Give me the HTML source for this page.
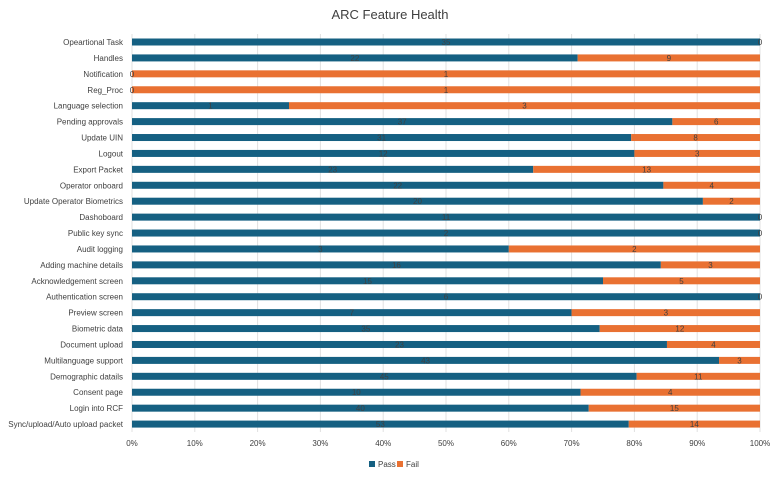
<!DOCTYPE html>
<html><head><meta charset="utf-8"><style>
body{margin:0;background:#fff;font-family:"Liberation Sans",sans-serif}
svg text{font-family:"Liberation Sans",sans-serif}
</style></head><body>
<svg id="chart" width="780" height="477">
<text x="390" y="19" text-anchor="middle" font-size="13" fill="#404040">ARC Feature Health</text>
<g id="grid"></g><g id="bars"></g><g id="ylabels"></g><g id="xlabels"></g>
<g>
<rect x="369" y="461" width="6" height="6" fill="#156082"/>
<text x="378" y="467" font-size="8" fill="#404040">Pass</text>
<rect x="397" y="461" width="6" height="6" fill="#E97132"/>
<text x="406" y="467" font-size="8" fill="#404040">Fail</text>
</g>
</svg>
<script>
const categories=["Opeartional Task","Handles","Notification","Reg_Proc","Language selection","Pending approvals","Update UIN","Logout","Export Packet","Operator onboard","Update Operator Biometrics","Dashoboard","Public key sync","Audit logging","Adding machine details","Acknowledgement screen","Authentication screen","Preview screen","Biometric data","Document upload","Multilanguage support","Demographic datails","Consent page","Login into RCF","Sync/upload/Auto upload packet"];
const passValues=[35,22,0,0,1,37,31,12,23,22,20,11,2,3,16,15,6,7,35,23,43,45,10,40,53];
const failValues=[0,9,1,1,3,6,8,3,13,4,2,0,0,2,3,5,0,3,12,4,3,11,4,15,14];
const xTicks=[0,10,20,30,40,50,60,70,80,90,100];
const NS="http://www.w3.org/2000/svg";
const x0=132,x1=760,yTop=42,yStep=15.92,bh=7;
const xs=p=>x0+(x1-x0)*p/100;
const ys=i=>yTop+i*yStep;
function mk(tag,attrs,parent,txt){const e=document.createElementNS(NS,tag);for(const k in attrs)e.setAttribute(k,attrs[k]);if(txt!==undefined)e.textContent=txt;parent.appendChild(e);return e;}
const grid=document.getElementById('grid'),bars=document.getElementById('bars'),yl=document.getElementById('ylabels'),xl=document.getElementById('xlabels');
xTicks.forEach(t=>{
  const l=mk('line',{x1:xs(t),x2:xs(t),y1:34,y2:432,stroke:'#e0e0e0','stroke-width':1},grid);
  
  
  const tx=mk('text',{x:xs(t),y:446,'text-anchor':'middle','font-size':8,fill:'#404040'},xl,t+'%');
  
  
});
categories.forEach((c,i)=>{
  const tot=passValues[i]+failValues[i];
  const pp=tot?passValues[i]/tot*100:0;
  const y=ys(i);
  const lab=mk('text',{x:123,y:y+3,'text-anchor':'end','font-size':8,fill:'#404040'},yl,c);
  
  
  const r1=mk('rect',{x:xs(0),y:y-bh/2,width:xs(pp)-xs(0),height:bh,fill:'#156082'},bars);
  
  
  const r2=mk('rect',{x:xs(pp),y:y-bh/2,width:xs(100)-xs(pp),height:bh,fill:'#E97132'},bars);
  
  
  const t1=mk('text',{x:(xs(0)+xs(pp))/2,y:y+3,'text-anchor':'middle','font-size':8,fill:'#404040'},bars,passValues[i]);
  
  
  const t2=mk('text',{x:(xs(pp)+xs(100))/2,y:y+3,'text-anchor':'middle','font-size':8,fill:'#404040'},bars,failValues[i]);
  
  
});
</script>
</body></html>
